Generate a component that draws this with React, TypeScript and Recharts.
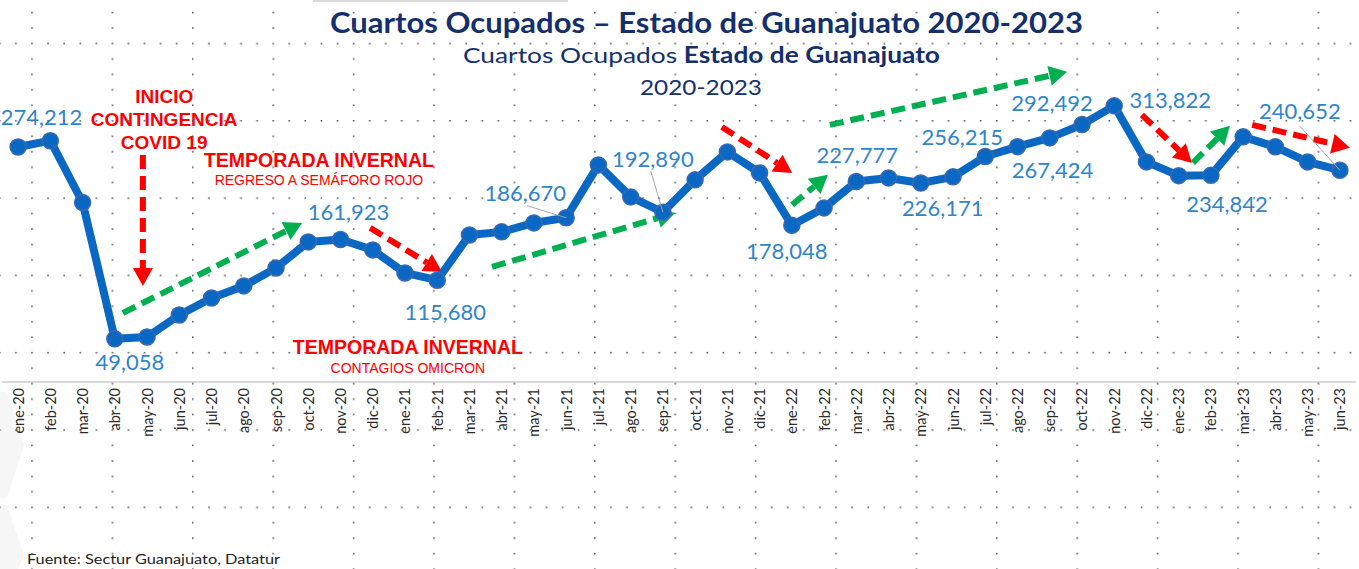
import React from 'react';
import { LineChart, Line, XAxis, YAxis, ReferenceLine, ReferenceDot, LabelList } from 'recharts';

// Cuartos ocupados por mes, Estado de Guanajuato
const months = [
  'ene-20', 'feb-20', 'mar-20', 'abr-20', 'may-20', 'jun-20', 'jul-20', 'ago-20', 'sep-20', 'oct-20', 'nov-20', 'dic-20',
  'ene-21', 'feb-21', 'mar-21', 'abr-21', 'may-21', 'jun-21', 'jul-21', 'ago-21', 'sep-21', 'oct-21', 'nov-21', 'dic-21',
  'ene-22', 'feb-22', 'mar-22', 'abr-22', 'may-22', 'jun-22', 'jul-22', 'ago-22', 'sep-22', 'oct-22', 'nov-22', 'dic-22',
  'ene-23', 'feb-23', 'mar-23', 'abr-23', 'may-23', 'jun-23',
];

const cuartosOcupados = [
  267000, 274212, 204000, 49058, 51200, 76200, 95500, 109200, 129600, 159200, 161923, 150100,
  123900, 115680, 167100, 170600, 180800, 186670, 246700, 210300, 192890, 229700, 261500, 237600,
  178048, 197800, 227777, 231900, 226171, 233100, 256215, 267424, 277400, 292492, 313822, 250100,
  234500, 234842, 278600, 267200, 250100, 240652,
];

const yDomain = [0, 400000];

// where each value label sits relative to its point (only these months carry a label)
const labelPlacement: Record<string, { dx: number; dy: number; anchor?: string; leader?: [number, number] }> = {
  'feb-20': { dx: 32, dy: -24, anchor: 'end' },
  'abr-20': { dx: 15, dy: 23 },
  'nov-20': { dx: 8, dy: -28 },
  'feb-21': { dx: 8, dy: 31 },
  'jun-21': { dx: -41, dy: -25, leader: [2, 13] },
  'sep-21': { dx: -10, dy: -54, leader: [-2, 13] },
  'ene-22': { dx: -5, dy: 25 },
  'mar-22': { dx: 1, dy: -27 },
  'may-22': { dx: 22, dy: 25 },
  'jul-22': { dx: -23, dy: -20 },
  'ago-22': { dx: 35, dy: 23 },
  'oct-22': { dx: -30, dy: -22 },
  'nov-22': { dx: 56, dy: -6 },
  'feb-23': { dx: 16, dy: 28 },
  'jun-23': { dx: -40, dy: -60, leader: [0, 16] },
};

// trend arrows in chart space: [mes inicio, valor inicio, mes fin, valor fin]
const redArrows = [
  [3.87, 258000, 3.87, 109000],
  [10.92, 175100, 13.15, 125100],
  [21.83, 289900, 24.01, 237600],
  [34.86, 303600, 36.41, 249000],
  [38.28, 292200, 41.31, 266100],
];
const greenArrows = [
  [3.25, 78450, 8.81, 180800],
  [14.7, 130750, 20.38, 192150],
  [24.01, 201250, 25.12, 235400],
  [25.18, 292200, 32.54, 352500],
  [36.44, 249000, 37.59, 291100],
];

const notes = [
  {
    x: 4.53, y: 297900,
    lines: [
      { text: 'INICIO', size: 19, bold: true, dy: -23 },
      { text: 'CONTINGENCIA', size: 19, bold: true, dy: 0 },
      { text: 'COVID 19', size: 19, bold: true, dy: 23 },
    ],
  },
  {
    x: 9.33, y: 252400,
    lines: [
      { text: 'TEMPORADA INVERNAL', size: 19.5, bold: true, dy: 0 },
      { text: 'REGRESO A SEMÁFORO ROJO', size: 14, bold: false, dy: 20 },
    ],
  },
  {
    x: 12.09, y: 39800,
    lines: [
      { text: 'TEMPORADA INVERNAL', size: 19.5, bold: true, dy: 0 },
      { text: 'CONTAGIOS OMICRON', size: 14, bold: false, dy: 21 },
    ],
  },
];

const chartData = months.map((m, i) => ({ i, month: m, value: cuartosOcupados[i] }));

const LINE_BLUE = '#0868C3';
const LABEL_BLUE = '#2F85CA';
const NAVY = '#13306C';

const MonthTick = ({ x, y, payload }: any) => (
  <text
    x={x}
    y={y - 2}
    transform={`rotate(-90, ${x}, ${y - 2})`}
    textAnchor="end"
    dominantBaseline="central"
    fontFamily="Lato, 'Open Sans', sans-serif"
    fontSize={14.5}
    fill="#2b2b2b"
  >
    {months[payload.value]}
  </text>
);

const DataLabel = (props: any) => {
  const x = props.x ?? props.viewBox?.x;
  const y = props.y ?? props.viewBox?.y;
  const index = props.index ?? cuartosOcupados.indexOf(props.value);
  const place = labelPlacement[months[index]];
  if (!place || x == null) return null;
  const lx = x + place.dx;
  const ly = y + place.dy;
  return (
    <g>
      {place.leader && (
        <line x1={lx + place.leader[0]} y1={ly + place.leader[1]} x2={x} y2={y} stroke="#A6A6A6" strokeWidth={1} />
      )}
      <text
        x={lx}
        y={ly}
        textAnchor={place.anchor ?? 'middle'}
        dominantBaseline="central"
        fontFamily="Lato, 'Open Sans', sans-serif"
        fontSize={22}
        fill={LABEL_BLUE}
      >
        {cuartosOcupados[index].toLocaleString('en-US')}
      </text>
    </g>
  );
};

const arrowShape = (color: string) => (props: any) => {
  const { x1, y1, x2, y2 } = props;
  const dx = x2 - x1;
  const dy = y2 - y1;
  const len = Math.hypot(dx, dy) || 1;
  const ux = dx / len;
  const uy = dy / len;
  const head = 18;
  const half = 10;
  const bx = x2 - ux * head;
  const by = y2 - uy * head;
  return (
    <g>
      <line x1={x1} y1={y1} x2={bx} y2={by} stroke={color} strokeWidth={6} strokeDasharray="14 7" />
      <polygon
        points={`${x2},${y2} ${bx - uy * half},${by + ux * half} ${bx + uy * half},${by - ux * half}`}
        fill={color}
      />
    </g>
  );
};

const noteShape = (lines: { text: string; size: number; bold: boolean; dy: number }[]) => (props: any) => (
  <g>
    {lines.map((l, k) => (
      <text
        key={k}
        x={props.cx}
        y={props.cy + l.dy}
        textAnchor="middle"
        dominantBaseline="central"
        fontFamily="'Liberation Sans', Arial, sans-serif"
        fontWeight={l.bold ? 700 : 400}
        fontSize={l.size}
        fill="#FF0000"
      >
        {l.text}
      </text>
    ))}
  </g>
);

// PowerPoint-style dotted guide grid laid over the slide
const DotGrid = () => {
  const cw = 80.4;
  const rh = 77.3;
  return (
    <svg width={1359} height={569} style={{ position: 'absolute', left: 0, top: 0, pointerEvents: 'none' }}>
      <defs>
        <pattern id="dots" x={31.2} y={42.7} width={cw} height={rh} patternUnits="userSpaceOnUse">
          {[0, 1, 2, 3, 4].map((k) => (
            <rect key={'h' + k} x={k * (cw / 5)} y={0} width={1.6} height={1.6} fill="#5a5a5a" />
          ))}
          {[1, 2, 3, 4].map((k) => (
            <rect key={'v' + k} x={0} y={k * (rh / 5)} width={1.6} height={1.6} fill="#5a5a5a" />
          ))}
        </pattern>
      </defs>
      <rect x={0} y={0} width={1359} height={569} fill="url(#dots)" />
    </svg>
  );
};

export default function App() {
  return (
    <div
      style={{
        position: 'absolute', left: 0, top: 0, width: 1359, height: 569,
        background: '#fff', overflow: 'hidden',
      }}
    >
      {/* background decorations */}
      <svg width={1359} height={569} style={{ position: 'absolute', left: 0, top: 0 }}>
        <rect x={313} y={0} width={255} height={2} fill="#DADADA" />
        <polygon points="0,392 7,392 24,445 7,498 0,498" fill="#F6F6F6" />
        <polygon points="0,505 7,505 24,555 18,569 0,569" fill="#F6F6F6" />
      </svg>

      <div style={{ position: 'absolute', left: 0, top: 0 }}>
        <LineChart width={1359} height={569} data={chartData} margin={{ top: 30, right: 3, bottom: 127, left: 2 }}>
          <XAxis
            dataKey="i"
            type="number"
            domain={[-0.5, 41.5]}
            ticks={chartData.map((d) => d.i)}
            interval={0}
            tick={<MonthTick />}
            tickLine={false}
            axisLine={{ stroke: '#D9D9D9', strokeWidth: 2 }}
            height={60}
          />
          <YAxis type="number" domain={yDomain} hide />
          {redArrows.map((a, k) => (
            <ReferenceLine
              key={'r' + k}
              segment={[{ x: a[0], y: a[1] }, { x: a[2], y: a[3] }]}
              ifOverflow="visible"
              shape={arrowShape('#FF0000')}
            />
          ))}
          {greenArrows.map((a, k) => (
            <ReferenceLine
              key={'g' + k}
              segment={[{ x: a[0], y: a[1] }, { x: a[2], y: a[3] }]}
              ifOverflow="visible"
              shape={arrowShape('#00B050')}
            />
          ))}
          {notes.map((n, k) => (
            <ReferenceDot key={'n' + k} x={n.x} y={n.y} r={0} ifOverflow="visible" shape={noteShape(n.lines)} />
          ))}
          <Line
            type="linear"
            dataKey="value"
            stroke={LINE_BLUE}
            strokeWidth={8}
            strokeLinejoin="round"
            dot={{ r: 8, fill: LINE_BLUE, stroke: '#3A68B2', strokeWidth: 1.5 }}
            isAnimationActive={false}
          >
            <LabelList dataKey="value" content={DataLabel} />
          </Line>
        </LineChart>
      </div>

      {/* slide titles and source */}
      <svg width={1359} height={569} style={{ position: 'absolute', left: 0, top: 0, pointerEvents: 'none' }}>
        <text x={330} y={33} textLength={753} lengthAdjust="spacingAndGlyphs"
          fontFamily="Lato, 'Open Sans', sans-serif" fontWeight={700} fontSize={28} fill={NAVY}>
          Cuartos Ocupados – Estado de Guanajuato 2020-2023
        </text>
        <text x={463} y={63} textLength={477} lengthAdjust="spacingAndGlyphs"
          fontFamily="Lato, 'Open Sans', sans-serif" fontSize={22} fill={NAVY}>
          Cuartos Ocupados <tspan fontWeight={700}>Estado de Guanajuato</tspan>
        </text>
        <text x={640} y={95} textLength={122} lengthAdjust="spacingAndGlyphs"
          fontFamily="Lato, 'Open Sans', sans-serif" fontSize={21} fill={NAVY}>
          2020-2023
        </text>
        <text x={27} y={564} textLength={253} lengthAdjust="spacingAndGlyphs"
          fontFamily="Lato, 'Open Sans', sans-serif" fontSize={14} fill="#222">
          Fuente: Sectur Guanajuato, Datatur
        </text>
      </svg>

      <DotGrid />
    </div>
  );
}
